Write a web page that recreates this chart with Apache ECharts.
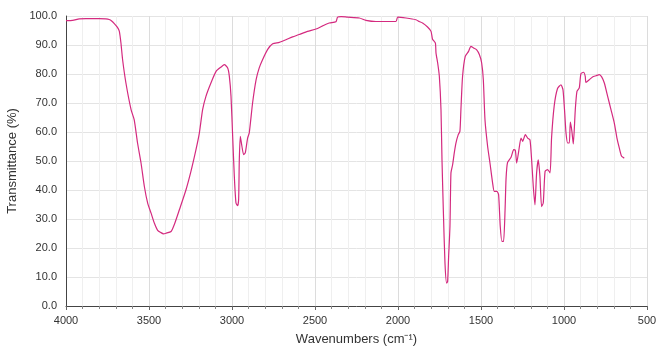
<!DOCTYPE html>
<html>
<head>
<meta charset="utf-8">
<script src="https://cdn.jsdelivr.net/npm/echarts@6/dist/echarts.min.js"></script>
<style>
  html, body { margin: 0; padding: 0; background: #fff; }
  #chart { width: 657px; height: 348px; }
</style>
</head>
<body>
<div id="chart"></div>
<script>
// IR spectrum: wavenumber (cm-1) against transmittance (%)
const wavenumbers = [
  4000, 3960, 3920, 3880, 3800, 3760, 3740, 3725, 3709, 3690, 3679, 3669, 3659, 3639, 3608, 3589, 3569,
  3548, 3528, 3508, 3488, 3468, 3448, 3428, 3413, 3398, 3367, 3348, 3317, 3277, 3247, 3217, 3197, 3177,
  3157, 3127, 3096, 3066, 3046, 3026, 3016, 3006, 2996, 2986, 2976, 2966, 2960, 2956, 2950, 2940,
  2930, 2920, 2906, 2896, 2876, 2855, 2836, 2816, 2786, 2755, 2715, 2675, 2635, 2595, 2545, 2494,
  2454, 2414, 2374, 2364, 2343, 2304, 2233, 2193, 2133, 2012, 2002, 1952, 1892, 1872, 1852, 1822,
  1801, 1792, 1775, 1771, 1761, 1751, 1741, 1735, 1727, 1717, 1707, 1701, 1695, 1687, 1681, 1671,
  1661, 1651, 1637, 1627, 1621, 1611, 1595, 1575, 1561, 1545, 1527, 1510, 1496, 1486, 1476, 1460,
  1446, 1430, 1420, 1404, 1394, 1384, 1374, 1364, 1355, 1349, 1340, 1319, 1303, 1293, 1285, 1273,
  1259, 1249, 1233, 1219, 1205, 1195, 1185, 1175, 1165, 1155, 1145, 1135, 1125, 1114, 1099, 1084,
  1075, 1059, 1039, 1018, 1006, 995, 988, 978, 968, 962, 953, 944, 932, 922, 908, 898,
  882, 872, 868, 848, 828, 807, 787, 773, 757, 737, 717, 697, 681, 667, 653, 637
];
const transmittance = [
  98.4, 98.5, 99.0, 99.1, 99.1, 99.0, 98.8, 98.3, 97.4, 96.1, 94.8, 90.7, 84.9, 76.9, 67.7, 64.2, 56.2,
  49.3, 41.2, 35.5, 32.1, 28.6, 26.1, 25.3, 24.9, 25.1, 25.7, 28.0, 33.2, 40.1, 46.5, 53.9, 59.5, 67.7,
  72.3, 76.9, 80.9, 82.4, 83.2, 82.1, 79.2, 72.3, 58.5, 44.7, 35.5, 34.6, 36.7, 50.4, 58.5, 55.0,
  52.2, 52.8, 57.9, 59.7, 70.0, 78.0, 82.1, 84.9, 88.4, 90.4, 90.9, 91.8, 92.8, 93.6, 94.7, 95.5,
  96.6, 97.6, 98.0, 99.6, 99.8, 99.6, 99.3, 98.5, 98.1, 98.1, 99.6, 99.3, 98.7, 98.1, 97.6, 96.2,
  94.7, 92.0, 90.7, 87.2, 83.8, 79.2, 67.7, 50.4, 33.2, 14.8, 7.9, 8.5, 17.1, 27.4, 45.9, 48.7,
  52.8, 56.2, 59.1, 60.2, 67.7, 79.2, 86.1, 87.8, 89.5, 89.0, 88.4, 86.7, 83.8, 78.0, 64.2, 55.0,
  49.3, 42.4, 39.5, 39.5, 38.4, 27.4, 22.3, 22.3, 33.2, 44.0, 49.5, 51.3, 53.9, 53.7, 49.3, 53.3,
  57.9, 56.8, 59.1, 57.9, 57.3, 50.4, 41.2, 34.9, 45.9, 50.4, 44.7, 34.3, 35.5, 46.4, 47.0, 45.9,
  57.9, 69.0, 75.0, 76.3, 74.5, 66.0, 59.7, 56.2, 56.2, 63.4, 60.5, 55.9, 67.7, 74.0, 75.2, 80.1,
  80.6, 79.2, 77.1, 78.0, 79.0, 79.4, 79.8, 79.0, 76.9, 72.3, 67.7, 63.1, 57.9, 54.5, 51.6, 51.0
];

const xName = 'Wavenumbers (cm\u207B\u00B9)';
const yName = 'Transmittance (%)';

const points = wavenumbers.map((w, i) => [w, transmittance[i]]);
const font = '"Liberation Sans", "Helvetica Neue", Arial, sans-serif';

const chart = echarts.init(document.getElementById('chart'), null, { renderer: 'canvas' });
chart.setOption({
  animation: false,
  backgroundColor: '#ffffff',
  grid: { left: 66, right: 10, top: 16, bottom: 42, containLabel: false, outerBoundsMode: 'none' },
  xAxis: {
    type: 'value',
    min: 500,
    max: 4000,
    interval: 500,
    inverse: true,
    name: xName,
    nameLocation: 'middle',
    nameGap: 27,
    nameTextStyle: { fontFamily: font, fontSize: 13, color: '#333' },
    axisLine: { show: true, onZero: false, lineStyle: { color: '#444', width: 1 } },
    axisTick: { show: true, length: 4, lineStyle: { color: '#666' } },
    minorTick: { show: true, splitNumber: 5, length: 3, lineStyle: { color: '#888' } },
    axisLabel: { fontFamily: font, fontSize: 11, color: '#333', margin: 9, formatter: v => String(v) },
    splitLine: { show: true, lineStyle: { color: '#dcdcdc', width: 1 } },
    minorSplitLine: { show: true, lineStyle: { color: '#efefef', width: 1 } }
  },
  yAxis: {
    type: 'value',
    min: 0,
    max: 100,
    interval: 10,
    name: yName,
    nameLocation: 'middle',
    nameGap: 44,
    nameTextStyle: { fontFamily: font, fontSize: 13, color: '#333' },
    axisLine: { show: true, lineStyle: { color: '#444', width: 1 } },
    axisTick: { show: false },
    axisLabel: {
      fontFamily: font, fontSize: 11, color: '#333', margin: 9,
      formatter: v => v.toFixed(1)
    },
    splitLine: { show: true, lineStyle: { color: '#e4e4e4', width: 1 } }
  },
  series: [{
    type: 'line',
    data: points,
    showSymbol: false,
    smooth: 0.2,
    lineStyle: { color: '#d42a7f', width: 1.2 },
    silent: true
  }]
});
</script>
</body>
</html>
